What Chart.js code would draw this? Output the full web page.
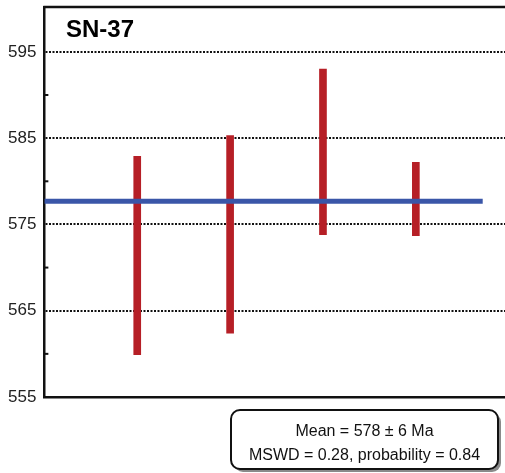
<!DOCTYPE html>
<html>
<head>
<meta charset="utf-8">
<script src="https://cdn.jsdelivr.net/npm/chart.js@4/dist/chart.umd.min.js"></script>
<style>
  html, body { margin: 0; padding: 0; background: #fff; overflow: hidden; }
  canvas { display: block; }
</style>
</head>
<body>
<canvas id="chart" width="505" height="473"></canvas>
<script>
// analyses (x position on the plot) and their age error bars, Ma
const analyses = [1, 2, 3, 4];
const lowAges = [559.9, 562.4, 573.8, 573.7];
const highAges = [582.9, 585.3, 593.0, 582.2];

// weighted mean line
const meanAge = 577.7;
const meanSpan = [0, 4.72];

const yTicks = [555, 565, 575, 585, 595];
const yMinorTicks = [560, 570, 580, 590];

const sampleName = "SN-37";
const resultLines = ["Mean = 578 ± 6 Ma", "MSWD = 0.28, probability = 0.84"];

const extrasPlugin = {
    id: "extras",
    afterDraw(chart) {
        const ctx = chart.ctx;
        const area = chart.chartArea;
        const y = chart.scales.y;
        ctx.save();

        // top frame line
        ctx.strokeStyle = "#111";
        ctx.lineWidth = 2.5;
        ctx.beginPath();
        ctx.moveTo(area.left - 1, area.top);
        ctx.lineTo(chart.width, area.top);
        ctx.stroke();

        // minor ticks, inside the axis
        ctx.lineWidth = 2;
        yMinorTicks.forEach((v) => {
            const py = y.getPixelForValue(v);
            ctx.beginPath();
            ctx.moveTo(area.left, py);
            ctx.lineTo(area.left + 4, py);
            ctx.stroke();
        });

        // sample name
        ctx.fillStyle = "#000";
        ctx.font = "bold 24px Arial, 'Liberation Sans', sans-serif";
        ctx.textAlign = "left";
        ctx.textBaseline = "alphabetic";
        ctx.fillText(sampleName, 66, 37);

        // result box with shadow
        const bx = 231, by = 410, bw = 267, bh = 59, r = 9;
        ctx.fillStyle = "#8a8a8a";
        ctx.beginPath();
        ctx.roundRect(bx + 3, by + 3, bw, bh, r);
        ctx.fill();
        ctx.fillStyle = "#fff";
        ctx.strokeStyle = "#111";
        ctx.lineWidth = 2;
        ctx.beginPath();
        ctx.roundRect(bx, by, bw, bh, r);
        ctx.fill();
        ctx.stroke();

        ctx.fillStyle = "#111";
        ctx.font = "16px Arial, 'Liberation Sans', sans-serif";
        ctx.textAlign = "center";
        ctx.fillText(resultLines[0], bx + bw / 2, 436);
        ctx.fillText(resultLines[1], bx + bw / 2, 460);
        ctx.restore();
    },
};

new Chart(document.getElementById("chart"), {
    data: {
        datasets: [
            {
                type: "line",
                data: meanSpan.map((x) => ({ x: x, y: meanAge })),
                borderColor: "#3a56a8",
                borderWidth: 5,
                pointRadius: 0,
                order: 0,
            },
            {
                type: "bar",
                data: analyses.map((x, i) => ({ x: x, y: [lowAges[i], highAges[i]] })),
                backgroundColor: "#b61f26",
                borderWidth: 0,
                barThickness: 7,
                order: 1,
            },
        ],
    },
    plugins: [extrasPlugin],
    options: {
        responsive: false,
        animation: false,
        layout: {
            padding: { top: 7, left: 0, right: 0, bottom: 68 },
        },
        plugins: {
            legend: { display: false },
            tooltip: { enabled: false },
        },
        scales: {
            x: {
                type: "linear",
                offset: false,
                min: 0,
                max: 4.96,
                ticks: { display: false },
                grid: { display: false },
                border: { display: true, color: "#111", width: 2.5 },
            },
            y: {
                type: "linear",
                min: 555,
                max: 600.2,
                afterBuildTicks: (scale) => {
                    scale.ticks = yTicks.map((v) => ({ value: v }));
                },
                afterFit: (scale) => {
                    scale.paddingTop = 0;
                    scale.paddingBottom = 0;
                },
                ticks: {
                    color: "#222",
                    padding: 8,
                    font: { family: "Arial, 'Liberation Sans', sans-serif", size: 17 },
                },
                grid: {
                    drawTicks: false,
                    color: (c) => (c.tick && c.tick.value === 555 ? "rgba(0,0,0,0)" : "#111"),
                    lineWidth: 2,
                },
                border: { display: true, color: "#111", width: 2.5, dash: [2, 1.5] },
            },
        },
    },
});
</script>
</body>
</html>
